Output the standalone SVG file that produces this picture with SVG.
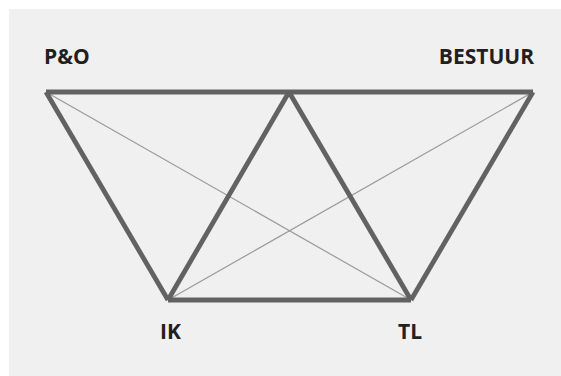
<svg xmlns="http://www.w3.org/2000/svg" width="561" height="376" viewBox="0 0 561 376">
<style>
.bg{fill:#f0f0f0}
.thick{stroke:#626262;stroke-width:4.8;fill:none;stroke-linejoin:miter}
.thin{stroke:#9a9a9a;stroke-width:1.2;fill:none}
.lbl{font-family:"Open Sans","Liberation Sans",sans-serif;font-weight:bold;font-size:21px;fill:#231f20}
</style>
<rect class="bg" x="9" y="9" width="552" height="367"/>
<g id="connectors">
<path class="thin" d="M46 92 L411 300"/>
<path class="thin" d="M533 92 L168 300"/>
<path class="thick" d="M46 92 L533 92"/>
<path class="thick" d="M46 92 L168 300"/>
<path class="thick" d="M533 92 L411 300"/>
<path class="thick" d="M168 300 L411 300"/>
<path class="thick" d="M289 92 L168 300"/>
<path class="thick" d="M289 92 L411 300"/>
</g>
<g id="po"><text class="lbl" x="44" y="64">P&amp;O</text></g>
<g id="bestuur"><text class="lbl" x="534" y="64" text-anchor="end">BESTUUR</text></g>
<g id="ik"><text class="lbl" x="160" y="339">IK</text></g>
<g id="tl"><text class="lbl" x="398" y="339">TL</text></g>
</svg>
